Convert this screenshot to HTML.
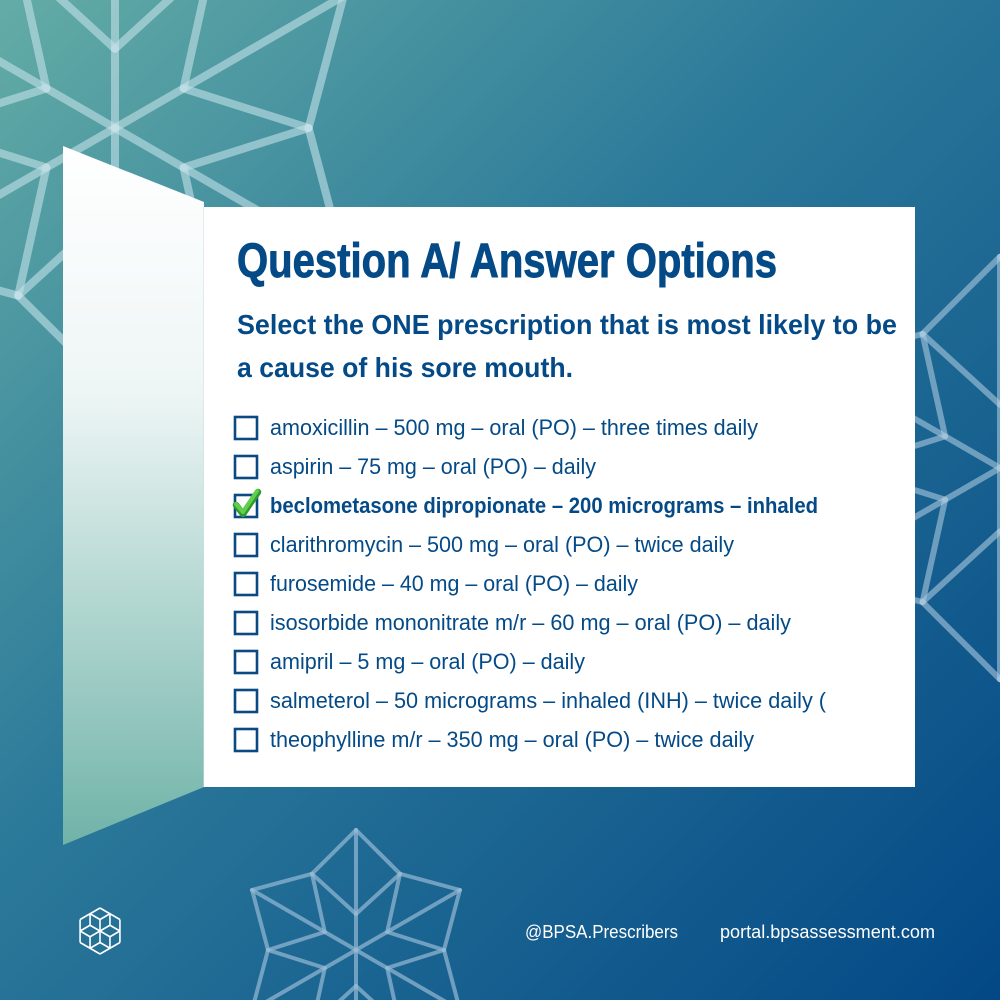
<!DOCTYPE html>
<html><head><meta charset="utf-8"><style>
html,body{margin:0;padding:0;width:1000px;height:1000px;overflow:hidden}
svg{display:block;overflow:hidden}
</style></head><body>
<svg id="s" width="1000" height="1000" viewBox="0 0 1000 1000" xmlns="http://www.w3.org/2000/svg">
<defs>
<linearGradient id="bg" x1="0" y1="0" x2="1" y2="1">
<stop offset="0" stop-color="#63aca6"/>
<stop offset="0.42" stop-color="#2c7a9a"/>
<stop offset="1" stop-color="#034886"/>
</linearGradient>
<linearGradient id="fl" x1="0" y1="0" x2="0" y2="1">
<stop offset="0" stop-color="#ffffff"/>
<stop offset="0.35" stop-color="#eef6f5"/>
<stop offset="1" stop-color="#6fb3a8"/>
</linearGradient>
<clipPath id="cp"><rect width="1000" height="1000"/></clipPath>
</defs>
<rect width="1000" height="1000" fill="url(#bg)"/>
<g id="stars" fill="none" stroke-linejoin="round" stroke-linecap="round" clip-path="url(#cp)"></g>
<polygon points="63,146 204,202 204,787 63,845" fill="url(#fl)"/>
<line x1="204" y1="207" x2="204" y2="787" stroke="#c9dde0" stroke-width="1"/>
<rect x="204" y="207" width="711" height="580" fill="#ffffff"/>
<g font-family="Liberation Sans, Arial, sans-serif" fill="#044a87">
<text x="237" y="277" font-size="48" font-weight="bold" stroke="#044a87" stroke-width="0.9" textLength="540" lengthAdjust="spacingAndGlyphs">Question A/ Answer Options</text>
<text x="237" y="334" font-size="28" font-weight="bold" textLength="660" lengthAdjust="spacingAndGlyphs">Select the ONE prescription that is most likely to be</text>
<text x="237" y="377" font-size="28" font-weight="bold" textLength="336" lengthAdjust="spacingAndGlyphs">a cause of his sore mouth.</text>
<g font-size="22">
<text x="270" y="435" textLength="488" lengthAdjust="spacingAndGlyphs">amoxicillin – 500 mg – oral (PO) – three times daily</text>
<text x="270" y="474" textLength="326" lengthAdjust="spacingAndGlyphs">aspirin – 75 mg – oral (PO) – daily</text>
<text x="270" y="513" font-weight="bold" textLength="548" lengthAdjust="spacingAndGlyphs">beclometasone dipropionate – 200 micrograms – inhaled</text>
<text x="270" y="552" textLength="464" lengthAdjust="spacingAndGlyphs">clarithromycin – 500 mg – oral (PO) – twice daily</text>
<text x="270" y="591" textLength="368" lengthAdjust="spacingAndGlyphs">furosemide – 40 mg – oral (PO) – daily</text>
<text x="270" y="630" textLength="521" lengthAdjust="spacingAndGlyphs">isosorbide mononitrate m/r – 60 mg – oral (PO) – daily</text>
<text x="270" y="669" textLength="315" lengthAdjust="spacingAndGlyphs">amipril – 5 mg – oral (PO) – daily</text>
<text x="270" y="708" textLength="556" lengthAdjust="spacingAndGlyphs">salmeterol – 50 micrograms – inhaled (INH) – twice daily (</text>
<text x="270" y="747" textLength="484" lengthAdjust="spacingAndGlyphs">theophylline m/r – 350 mg – oral (PO) – twice daily</text>
</g>
</g>
<g id="boxes" fill="none" stroke="#0a4a84" stroke-width="2.6"></g>
<path d="M236,505 L243,514 L258,492" fill="none" stroke="#2f9a2f" stroke-width="6.5" stroke-linecap="round" stroke-linejoin="round"/>
<path d="M236,504 L243,512 L257,491" fill="none" stroke="#62cf4a" stroke-width="4" stroke-linecap="round" stroke-linejoin="round"/>
<g font-family="Liberation Sans, Arial, sans-serif" fill="#ffffff" font-size="18">
<text x="525" y="938" textLength="153" lengthAdjust="spacingAndGlyphs">@BPSA.Prescribers</text>
<text x="720" y="938" textLength="215" lengthAdjust="spacingAndGlyphs">portal.bpsassessment.com</text>
</g>
<g id="logo" fill="none" stroke="#ffffff" stroke-width="1.6" stroke-linejoin="round"></g>
</svg>
<script>
var NS="http://www.w3.org/2000/svg";
function line(g,a,b,w,c){var l=document.createElementNS(NS,"line");l.setAttribute("x1",a[0]);l.setAttribute("y1",a[1]);l.setAttribute("x2",b[0]);l.setAttribute("y2",b[1]);l.setAttribute("stroke",c);l.setAttribute("stroke-width",w);g.appendChild(l);}
function P(cx,cy,r,deg){var t=deg*Math.PI/180;return [cx+r*Math.cos(t),cy+r*Math.sin(t)];}
function star(cx,cy,s,w,c){
 var g=document.getElementById("stars");var C=[cx,cy];
 for(var k=0;k<6;k++){
  var ta=-90+60*k;
  var tip=P(cx,cy,120*s,ta),inn=P(cx,cy,36*s,ta);
  var s1=P(cx,cy,88*s,ta-30),s2=P(cx,cy,88*s,ta+30);
  line(g,C,tip,w,c);line(g,tip,s1,w,c);line(g,tip,s2,w,c);
  line(g,inn,s1,w,c);line(g,inn,s2,w,c);
 }
}
star(115,128,2.2,8,"rgba(195,225,232,0.6)");
star(1000,468,1.76,6,"rgba(170,200,222,0.6)");
star(356,950,1.0,4,"rgba(150,185,212,0.7)");
var b=document.getElementById("boxes");
for(var i=0;i<9;i++){var r=document.createElementNS(NS,"rect");r.setAttribute("x",235);r.setAttribute("y",417+39*i);r.setAttribute("width",22);r.setAttribute("height",22);b.appendChild(r);}
var lg=document.getElementById("logo");var cx=100,cy=931,R=23;
var pts=[];for(var k=0;k<6;k++)pts.push(P(cx,cy,R,-90+60*k));
for(var k=0;k<6;k++)line(lg,pts[k],pts[(k+1)%6],1.6,"#fff");
for(var k=0;k<6;k++){var m=P(cx,cy,R/2,-90+60*k);line(lg,[cx,cy],m,1.6,"#fff");}
for(var k=0;k<6;k++){var m=P(cx,cy,R/2,-90+60*k);var n1=P(m[0],m[1],R/2,-90+60*k-60),n2=P(m[0],m[1],R/2,-90+60*k+60);line(lg,m,n1,1.6,"#fff");line(lg,m,n2,1.6,"#fff");}
</script>
</body></html>
